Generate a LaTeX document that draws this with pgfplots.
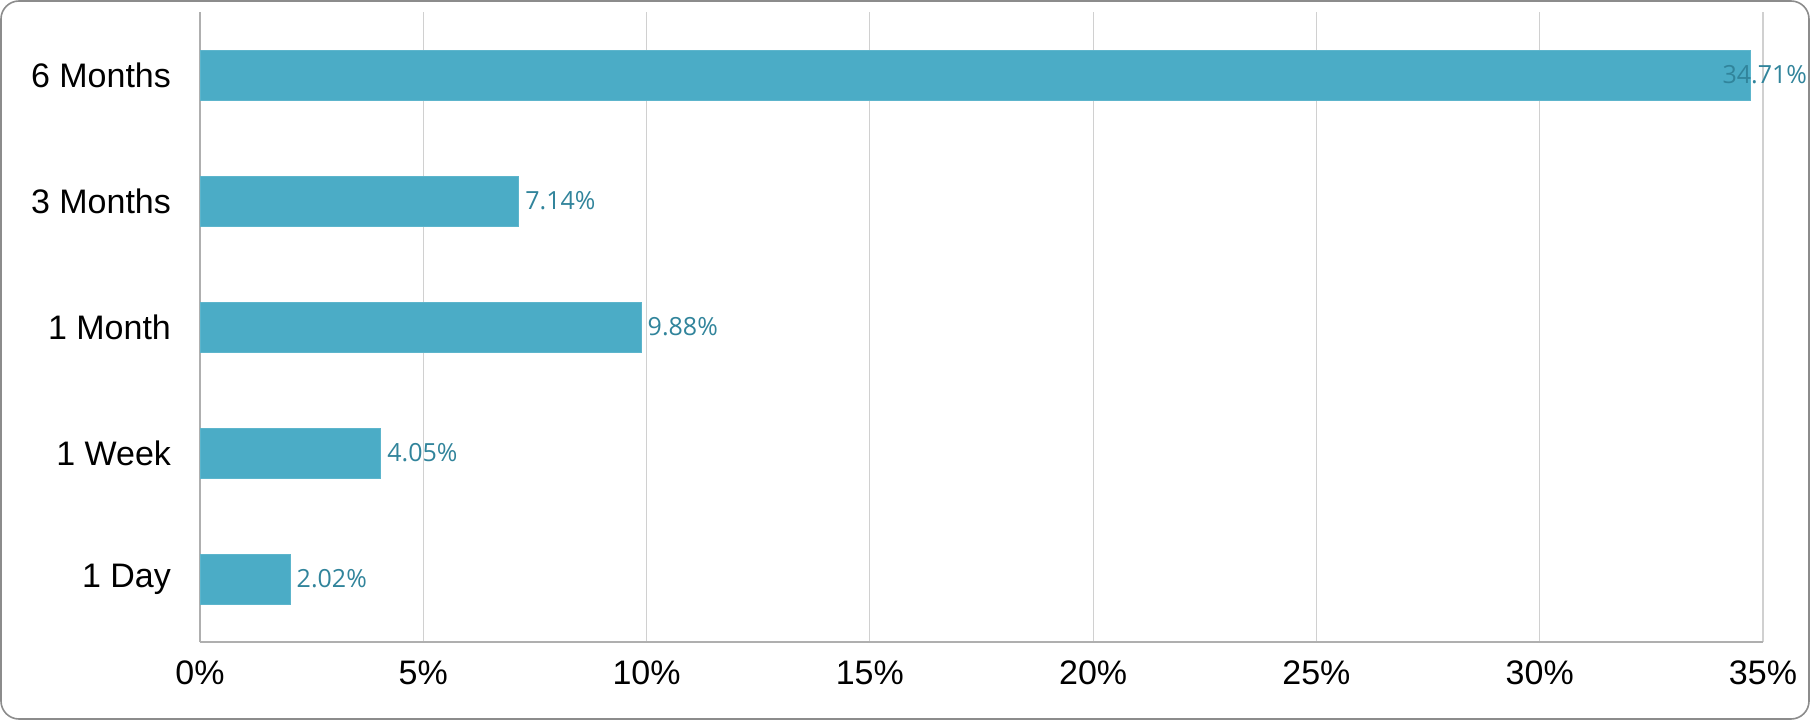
\documentclass[border=0pt]{standalone}
\usepackage{pgfplots}
\pgfplotsset{compat=1.18}
\usepackage{fontspec}
\setmainfont{Liberation Sans}
\newfontfamily\labelfont{Open Sans}
\definecolor{barfill}{HTML}{4BACC6}
\definecolor{baredge}{HTML}{5DB5CC}
\definecolor{lblcol}{HTML}{31849B}
\definecolor{gridcol}{HTML}{D0D0D0}
\definecolor{axcol}{HTML}{AFAFAF}
\definecolor{framecol}{HTML}{8C8C8C}
\begin{document}
\begin{tikzpicture}
\useasboundingbox (0,0) rectangle (905pt,360pt);
\draw[framecol, line width=0.8pt, rounded corners=9pt] (0.5pt,0.5pt) rectangle (904.5pt,359.5pt);
\begin{axis}[
  at={(100pt,39pt)}, anchor=south west,
  scale only axis, width=781.5pt, height=315pt,
  xbar, bar width=25pt, bar shift=0pt,
  xmin=0, xmax=35, ymin=-0.5, ymax=4.5,
  xtick={0,5,...,35},
  xticklabels={0\%,5\%,10\%,15\%,20\%,25\%,30\%,35\%},
  ytick={0,1,2,3,4},
  yticklabels={1 Day,1 Week,1 Month,3 Months,6 Months},
  major tick length=0pt,
  axis x line*=bottom, axis y line*=left,
  axis line style={axcol, line width=0.6pt},
  xmajorgrids, major grid style={gridcol, line width=0.6pt},
  tick label style={font=\fontsize{17}{20}\selectfont, text=black},
  yticklabel style={xshift=-11pt},
  xticklabel style={yshift=-6pt},
  point meta=explicit symbolic,
  nodes near coords,
  every node near coord/.append style={font=\labelfont\fontsize{12.5}{15}\selectfont, text=lblcol, anchor=west, inner sep=3pt},
]
\addplot[fill=barfill, draw=baredge, line width=0.5pt] coordinates {
  (2.02,0) [2.02\%]
  (4.05,1) [4.05\%]
  (9.88,2) [9.88\%]
  (7.14,3) [7.14\%]
};
\addplot[fill=barfill, draw=baredge, line width=0.5pt,
  every node near coord/.append style={xshift=-17pt}] coordinates {
  (34.71,4) [34.71\%]
};
\end{axis}
\end{tikzpicture}
\end{document}
